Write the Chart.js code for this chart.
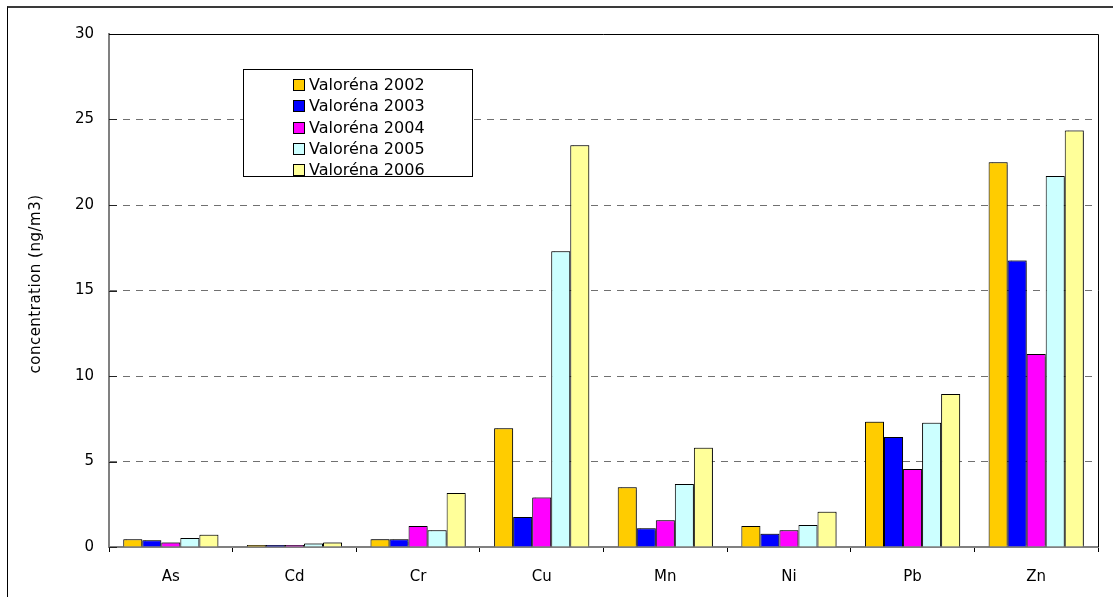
<!DOCTYPE html>
<html>
<head>
<meta charset="utf-8">
<script src="https://cdn.jsdelivr.net/npm/chart.js@4/dist/chart.umd.min.js"></script>
<style>
  html, body { margin: 0; padding: 0; background: #fff; overflow: hidden; }
  #wrap { position: absolute; left: 0; top: 0; width: 1113px; height: 597px; }
  #frame { position: absolute; left: 7px; top: 6px; width: 1200px; height: 700px;
           border-top: 2px solid #3a3a3a; border-left: 1px solid #000; pointer-events: none; }
</style>
</head>
<body>
<div id="wrap"><canvas id="c"></canvas></div>
<div id="frame"></div>
<script>
// Metals measured at each site
const categories = ['As', 'Cd', 'Cr', 'Cu', 'Mn', 'Ni', 'Pb', 'Zn'];

// Annual mean concentrations (ng/m3)
const valorena2002 = [0.45, 0.12, 0.45, 6.95, 3.5, 1.23, 7.33, 22.5];
const valorena2003 = [0.39, 0.12, 0.45, 1.75, 1.1, 0.78, 6.43, 16.76];
const valorena2004 = [0.27, 0.12, 1.23, 2.9, 1.56, 0.98, 4.56, 11.28];
const valorena2005 = [0.53, 0.2, 0.98, 17.3, 3.68, 1.29, 7.27, 21.7];
const valorena2006 = [0.72, 0.27, 3.16, 23.5, 5.81, 2.06, 8.95, 24.36];

const seriesLabels = ['Valoréna 2002', 'Valoréna 2003', 'Valoréna 2004', 'Valoréna 2005', 'Valoréna 2006'];
const seriesColors = ['#FFCC00', '#0000FF', '#FF00FF', '#CCFFFF', '#FFFF99'];
const seriesValues = [valorena2002, valorena2003, valorena2004, valorena2005, valorena2006];

const yTicks = [0, 5, 10, 15, 20, 25, 30];
const yTitle = 'concentration (ng/m3)';

const FONT = "'DejaVu Sans', 'Open Sans', sans-serif";

// Soft offset shadow behind the bars
const barShadow = {
  id: 'barShadow',
  beforeDatasetsDraw(chart) {
    const ctx = chart.ctx;
    ctx.save();
    ctx.shadowColor = 'rgba(0,0,0,0.4)';
    ctx.shadowBlur = 1;
    ctx.shadowOffsetX = 1;
    ctx.shadowOffsetY = -1;
  },
  afterDatasetsDraw(chart) {
    chart.ctx.restore();
  }
};

// Plot frame (black top/right edges), inward y ticks and the rotated axis title
const plotFrame = {
  id: 'plotFrame',
  afterDraw(chart) {
    const { ctx, chartArea: a, scales } = chart;
    ctx.save();
    ctx.strokeStyle = '#000';
    ctx.lineWidth = 1;
    ctx.beginPath();
    ctx.moveTo(a.left, a.top + 0.5);
    ctx.lineTo(a.right + 0.5, a.top + 0.5);
    ctx.lineTo(a.right + 0.5, a.bottom);
    ctx.stroke();
    ctx.strokeStyle = '#222';
    yTicks.forEach(v => {
      if (v === 30) return;
      const y = Math.round(scales.y.getPixelForValue(v)) + 0.5;
      ctx.beginPath();
      ctx.moveTo(a.left, y);
      ctx.lineTo(a.left + 8, y);
      ctx.stroke();
    });
    ctx.translate(36, 284);
    ctx.rotate(-Math.PI / 2);
    ctx.font = '15px ' + FONT;
    if ('letterSpacing' in ctx) ctx.letterSpacing = '0.5px';
    ctx.fillStyle = '#000';
    ctx.textAlign = 'center';
    ctx.textBaseline = 'middle';
    ctx.fillText(yTitle, 0, 0);
    ctx.restore();
  }
};

// Boxed legend inside the plot area
const boxLegend = {
  id: 'boxLegend',
  afterDraw(chart) {
    const ctx = chart.ctx;
    const bx = 243, by = 69, bw = 229, bh = 107;
    ctx.save();
    ctx.fillStyle = '#fff';
    ctx.fillRect(bx, by, bw, bh);
    ctx.strokeStyle = '#000';
    ctx.lineWidth = 1;
    ctx.strokeRect(bx + 0.5, by + 0.5, bw, bh);
    ctx.font = '16px ' + FONT;
    ctx.textBaseline = 'middle';
    chart.data.datasets.forEach((ds, i) => {
      const cy = by + 16 + i * 21.3;
      ctx.fillStyle = ds.backgroundColor;
      ctx.fillRect(293, Math.round(cy - 6), 11, 11);
      ctx.strokeStyle = '#000';
      ctx.strokeRect(293.5, Math.round(cy - 6) + 0.5, 11, 11);
      ctx.fillStyle = '#000';
      ctx.fillText(ds.label, 309, cy + 1);
    });
    ctx.restore();
  }
};

new Chart(document.getElementById('c'), {
  type: 'bar',
  data: {
    labels: categories,
    datasets: seriesLabels.map((label, i) => ({
      label,
      data: seriesValues[i],
      backgroundColor: seriesColors[i],
      borderColor: '#000',
      borderWidth: 1,
      categoryPercentage: 0.77,
      barPercentage: 1.0
    }))
  },
  options: {
    responsive: true,
    maintainAspectRatio: false,
    animation: false,
    layout: { padding: { left: 0, top: 34, right: 15, bottom: 0 } },
    plugins: {
      legend: { display: false },
      tooltip: { enabled: false }
    },
    scales: {
      x: {
        afterFit(scale) { scale.height = 50; },
        grid: {
          offset: true,
          drawOnChartArea: false,
          drawTicks: true,
          tickLength: 5,
          color: '#000'
        },
        border: { color: '#808080', width: 2 },
        ticks: {
          color: '#000',
          padding: 16,
          font: { family: FONT, size: 15 }
        }
      },
      y: {
        min: 0,
        max: 30,
        afterFit(scale) { scale.width = 109; },
        afterBuildTicks(scale) { scale.ticks = yTicks.map(v => ({ value: v })); },
        grid: {
          drawTicks: false,
          color: ctx => (ctx.tick && (ctx.tick.value === 0 || ctx.tick.value === 30)) ? 'rgba(0,0,0,0)' : '#707070',
          lineWidth: 1
        },
        border: { color: '#808080', width: 2, dash: [7, 6] },
        ticks: {
          color: '#000',
          padding: 15,
          font: { family: FONT, size: 15 },
          callback: v => String(v)
        }
      }
    }
  },
  plugins: [barShadow, plotFrame, boxLegend]
});
</script>
</body>
</html>
